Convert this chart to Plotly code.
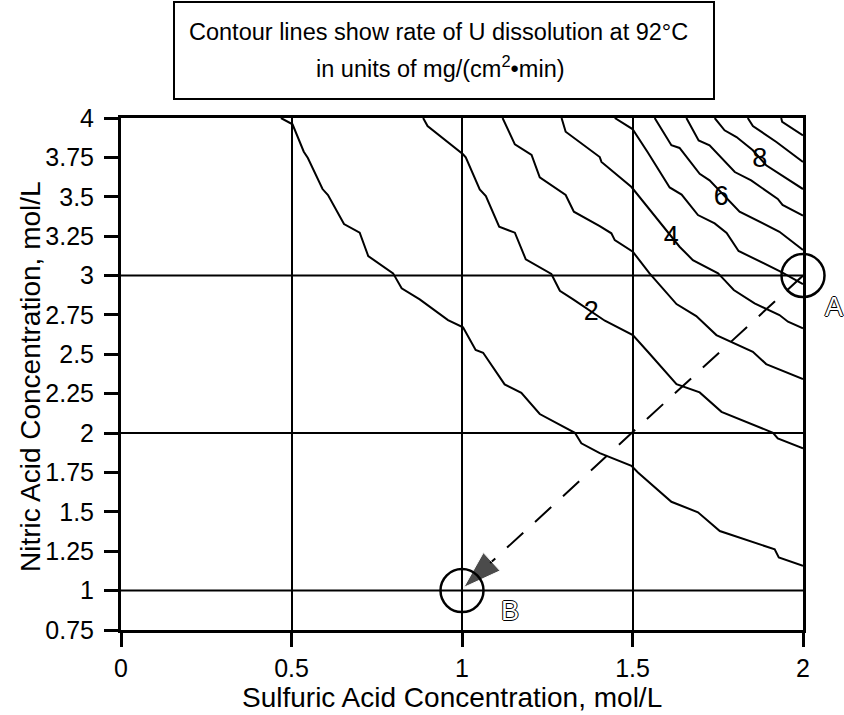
import plotly.graph_objects as go

# ---------------- data ----------------
x_ticks = [0, 0.5, 1, 1.5, 2]
y_ticks = [0.75, 1, 1.25, 1.5, 1.75, 2, 2.25, 2.5, 2.75, 3, 3.25, 3.5, 3.75, 4]
y_grid = [1, 2, 3]

# contour lines (U dissolution rate, mg/(cm2*min)), levels 1..10
c1_x = [0.469, 0.503, 0.536, 0.548, 0.591, 0.607, 0.654, 0.671, 0.700, 0.725, 0.798, 0.823, 0.876,
        0.959, 1.003, 1.040, 1.062, 1.125, 1.174, 1.228, 1.331, 1.350, 1.404, 1.497, 1.516, 1.614,
        1.692, 1.756, 1.917, 1.929, 2.0]
c1_y = [4.0, 3.960, 3.786, 3.746, 3.549, 3.511, 3.327, 3.308, 3.272, 3.124, 3.014, 2.919, 2.849,
        2.717, 2.671, 2.527, 2.510, 2.309, 2.256, 2.121, 2.002, 1.935, 1.873, 1.792, 1.750, 1.564,
        1.497, 1.378, 1.262, 1.211, 1.157]
c2_x = [0.886, 0.899, 1.003, 1.011, 1.052, 1.070, 1.109, 1.155, 1.187, 1.262, 1.287, 1.326, 1.419,
        1.501, 1.545, 1.629, 1.697, 1.761, 1.912, 1.926, 2.0]
c2_y = [4.0, 3.949, 3.770, 3.750, 3.547, 3.505, 3.310, 3.272, 3.103, 3.010, 2.903, 2.849, 2.713,
        2.622, 2.516, 2.311, 2.258, 2.135, 2.002, 1.966, 1.903]
c3_x = [1.119, 1.155, 1.204, 1.228, 1.304, 1.328, 1.404, 1.438, 1.448, 1.501, 1.550, 1.594, 1.629,
        1.687, 1.746, 1.853, 1.892, 2.0]
c3_y = [4.0, 3.833, 3.765, 3.623, 3.511, 3.405, 3.314, 3.268, 3.225, 3.151, 3.014, 2.908, 2.819,
        2.743, 2.622, 2.516, 2.438, 2.343]
c4_x = [1.292, 1.304, 1.404, 1.409, 1.497, 1.545, 1.594, 1.638, 1.677, 1.751, 1.770, 1.797, 1.858,
        1.931, 1.956, 2.0]
c4_y = [4.0, 3.913, 3.752, 3.721, 3.562, 3.435, 3.300, 3.183, 3.098, 3.014, 2.971, 2.908, 2.823,
        2.749, 2.707, 2.665]
c5_x = [1.448, 1.500, 1.545, 1.609, 1.644, 1.692, 1.741, 1.776, 1.811, 1.937, 2.0]
c5_y = [4.0, 3.930, 3.781, 3.559, 3.514, 3.384, 3.331, 3.270, 3.156, 3.022, 2.946]
c6_x = [1.565, 1.614, 1.638, 1.697, 1.726, 1.795, 1.814, 1.931, 2.0]
c6_y = [4.0, 3.827, 3.810, 3.646, 3.604, 3.448, 3.405, 3.278, 3.162]
c7_x = [1.658, 1.694, 1.726, 1.800, 1.848, 1.926, 1.940, 2.0]
c7_y = [4.0, 3.858, 3.827, 3.657, 3.604, 3.486, 3.448, 3.381]
c8_x = [1.741, 1.770, 1.805, 1.853, 1.892, 2.0]
c8_y = [4.0, 3.922, 3.879, 3.795, 3.700, 3.549]
c9_x = [1.838, 1.853, 1.922, 2.0]
c9_y = [4.0, 3.949, 3.848, 3.721]
c10_x = [1.936, 1.939, 2.0]
c10_y = [4.0, 3.975, 3.890]

contours_x = [c1_x, c2_x, c3_x, c4_x, c5_x, c6_x, c7_x, c8_x, c9_x, c10_x]
contours_y = [c1_y, c2_y, c3_y, c4_y, c5_y, c6_y, c7_y, c8_y, c9_y, c10_y]

label_text = ["2", "4", "6", "8"]
label_x = [1.379, 1.614, 1.760, 1.873]
label_y = [2.760, 3.236, 3.490, 3.733]

point_x = [2, 1]
point_y = [3, 1]
point_names = ["A", "B"]
point_label_x = [2.090, 1.140]
point_label_y = [2.80, 0.870]
x_range = [0, 2]

arrow_x = [2, 1.005]
arrow_y = [3, 1.02]

title_lines = ["Contour lines show rate of U dissolution at 92°C",
               "in units of mg/(cm<sup>2</sup>•min)"]
x_title = "Sulfuric Acid Concentration, mol/L"
y_title = "Nitric Acid Concentration, mol/L"

FONT = "Liberation Sans, Arial, sans-serif"

fig = go.Figure()

for cx, cy in zip(contours_x, contours_y):
    fig.add_trace(go.Scatter(x=cx, y=cy, mode="lines",
                             line=dict(color="black", width=2),
                             hoverinfo="skip", showlegend=False))

fig.add_trace(go.Scatter(x=label_x, y=label_y, mode="text", text=label_text,
                         textfont=dict(family=FONT, size=27, color="black"),
                         showlegend=False, hoverinfo="skip"))

# dashed arrow from A to B
fig.add_trace(go.Scatter(x=arrow_x, y=arrow_y, mode="lines+markers",
                         line=dict(color="black", width=2, dash="22px,16px"),
                         marker=dict(symbol=["circle", "arrow"], size=[1, 40],
                                     angleref="previous", color="black"),
                         cliponaxis=False, showlegend=False, hoverinfo="skip"))

# circles at A and B
fig.add_trace(go.Scatter(x=point_x, y=point_y, mode="markers",
                         marker=dict(symbol="circle-open", size=43,
                                     line=dict(color="black", width=2.5), color="black"),
                         cliponaxis=False, showlegend=False, hoverinfo="skip"))

shapes = []
for gy in y_grid:
    shapes.append(dict(type="line", xref="x", yref="y", x0=x_ticks[0], x1=x_ticks[-1],
                       y0=gy, y1=gy, line=dict(color="black", width=2), layer="below"))

# title box
shapes.append(dict(type="rect", xref="paper", yref="paper",
                   x0=(174 - 121) / 682, x1=(714 - 121) / 682,
                   y0=(630 - 99) / 512, y1=(630 - 2) / 512,
                   line=dict(color="black", width=2), fillcolor="white"))

annotations = []
annotations.append(dict(text=title_lines[0], xref="paper", yref="paper",
                        x=(438 - 121) / 682, y=(630 - 32) / 512, xanchor="center", yanchor="middle",
                        showarrow=False, font=dict(family=FONT, size=23.5, color="black")))
annotations.append(dict(text=title_lines[1], xref="paper", yref="paper",
                        x=(440 - 121) / 682, y=(630 - 67) / 512, xanchor="center", yanchor="middle",
                        showarrow=False, font=dict(family=FONT, size=23.5, color="black")))
annotations.append(dict(text=x_title, xref="paper", yref="paper",
                        x=(452 - 121) / 682, y=(630 - 697) / 512, xanchor="center", yanchor="middle",
                        showarrow=False, font=dict(family=FONT, size=28, color="black")))
annotations.append(dict(text=y_title, xref="paper", yref="paper", textangle=-90,
                        x=(30 - 121) / 682, y=(630 - 377) / 512, xanchor="center", yanchor="middle",
                        showarrow=False, font=dict(family=FONT, size=28, color="black")))

# hollow (outlined) point labels A and B (x given in paper fraction of the x range)
outline = "1px 0 0 #000, -1px 0 0 #000, 0 1px 0 #000, 0 -1px 0 #000"
for nm, lx, ly in zip(point_names, point_label_x, point_label_y):
    annotations.append(dict(text=nm, xref="paper", yref="y",
                            x=(lx - x_range[0]) / (x_range[1] - x_range[0]), y=ly,
                            showarrow=False, xanchor="center", yanchor="middle",
                            font=dict(family=FONT, size=27, color="white", shadow=outline)))

fig.update_layout(
    width=844, height=715,
    margin=dict(l=121, r=41, t=118, b=85),
    paper_bgcolor="white", plot_bgcolor="white",
    font=dict(family=FONT, color="black"),
    shapes=shapes, annotations=annotations,
    showlegend=False,
)
fig.update_xaxes(range=x_range, tickvals=x_ticks, ticks="outside", ticklen=14, tickwidth=2.5,
                 tickcolor="black", tickfont=dict(family=FONT, size=25, color="black"),
                 showgrid=True, gridcolor="black", gridwidth=2, zeroline=False,
                 showline=True, linecolor="black", linewidth=3, mirror=True)
fig.update_yaxes(range=[0.75, 4], tickvals=y_ticks, ticks="outside", ticklen=14, tickwidth=2.5,
                 tickcolor="black", tickfont=dict(family=FONT, size=25, color="black"),
                 ticklabelstandoff=5,
                 showgrid=False, zeroline=False,
                 showline=True, linecolor="black", linewidth=3, mirror=True)

fig.write_html("out.html", config={"displayModeBar": False},
               post_script="document.body.style.margin='0px';document.body.style.overflow='hidden';")
